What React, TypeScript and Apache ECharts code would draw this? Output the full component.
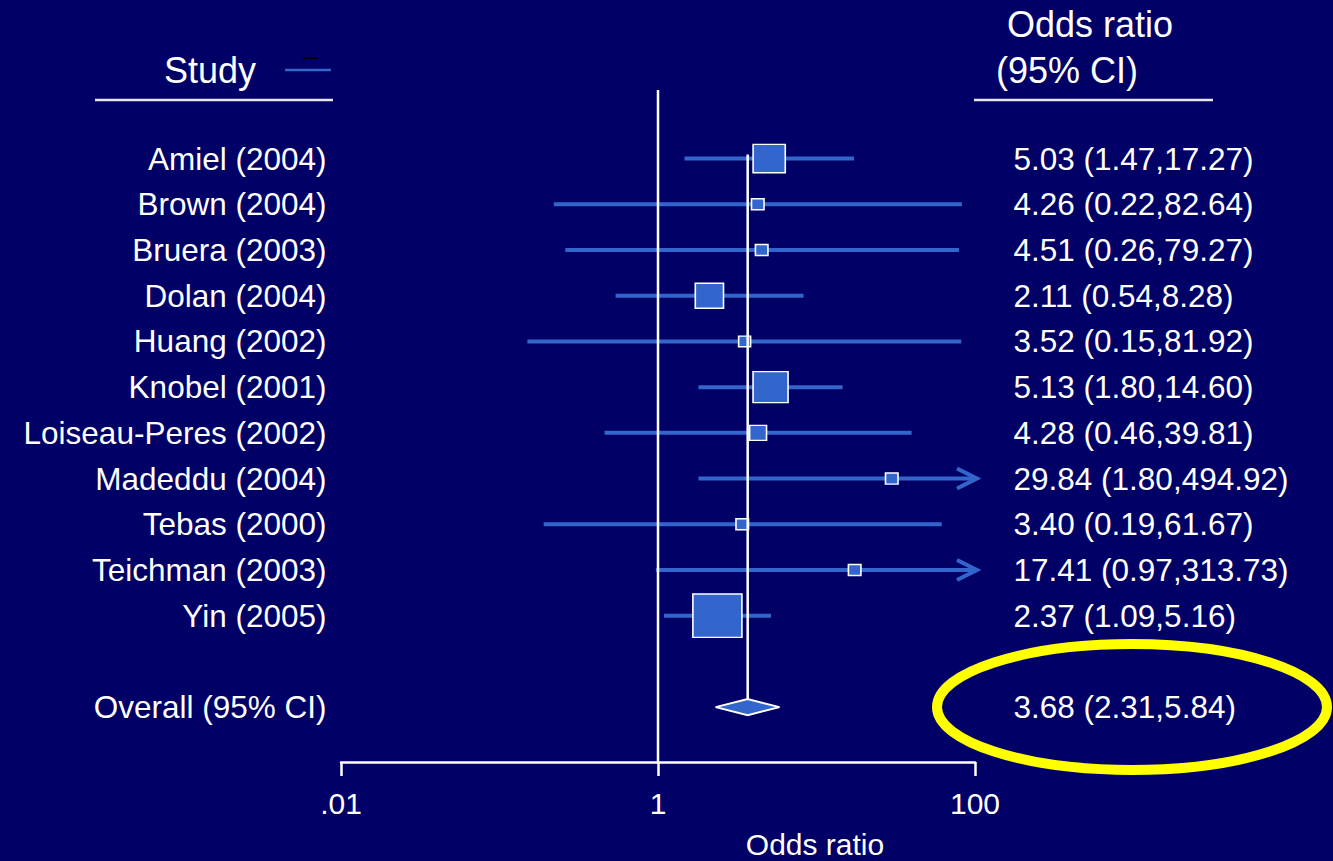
import React, { useEffect, useRef } from "react";
import * as echarts from "echarts";

// ---- data ----
const studies = [
  "Amiel (2004)",
  "Brown (2004)",
  "Bruera (2003)",
  "Dolan (2004)",
  "Huang (2002)",
  "Knobel (2001)",
  "Loiseau-Peres (2002)",
  "Madeddu (2004)",
  "Tebas (2000)",
  "Teichman (2003)",
  "Yin (2005)",
];
const oddsRatio = [5.03, 4.26, 4.51, 2.11, 3.52, 5.13, 4.28, 29.84, 3.4, 17.41, 2.37];
const ciLow = [1.47, 0.22, 0.26, 0.54, 0.15, 1.8, 0.46, 1.8, 0.19, 0.97, 1.09];
const ciHigh = [17.27, 82.64, 79.27, 8.28, 81.92, 14.6, 39.81, 494.92, 61.67, 313.73, 5.16];
// approximate study weights (%), read from square areas
const weights = [15.2, 2.3, 2.3, 11.7, 2.1, 18.0, 4.2, 2.3, 2.3, 2.3, 35.3];
const rows = [0, 1, 2, 3, 4, 5, 6, 7, 8, 9, 10];

const overallLabel = "Overall (95% CI)";
const overallOR = 3.68;
const overallLow = 2.31;
const overallHigh = 5.84;
const overallRow = 12;

const tickValues = [0.01, 1, 100];
const tickLabels = [".01", "1", "100"];

// ---- styles ----
const BG = "#000066";
const BLUE = "#3366CC";
const WHITE = "#FFFFFF";
const FONT = "'Liberation Sans', Arial, sans-serif";
const X_MIN = Math.log10(tickValues[0]);
const X_MAX = Math.log10(tickValues[tickValues.length - 1]);

const fmt = (v: number) => v.toFixed(2);

export default function App() {
  const ref = useRef<HTMLDivElement>(null);

  useEffect(() => {
    if (!ref.current) return;
    const chart = echarts.init(ref.current, null, { renderer: "svg" });

    const labelRows = [...rows, overallRow];
    const leftTexts = [...studies, overallLabel];
    const rightTexts = [
      ...studies.map((_, i) => `${fmt(oddsRatio[i])} (${fmt(ciLow[i])},${fmt(ciHigh[i])})`),
      `${fmt(overallOR)} (${fmt(overallLow)},${fmt(overallHigh)})`,
    ];
    const tickMap: Record<string, string> = {};
    tickValues.forEach((v, i) => (tickMap[String(Math.round(Math.log10(v)))] = tickLabels[i]));

    const option: any = {
      animation: false,
      backgroundColor: BG,
      grid: { left: 341, right: 358, top: 90, bottom: 99 },
      xAxis: {
        type: "value",
        position: "bottom",
        min: X_MIN,
        max: X_MAX,
        interval: 2,
        axisLine: { show: true, onZero: false, lineStyle: { color: WHITE, width: 2.5 } },
        axisTick: { show: true, inside: false, length: 14, lineStyle: { color: WHITE, width: 2.5 } },
        axisLabel: {
          color: WHITE,
          fontSize: 30,
          fontFamily: FONT,
          margin: 26,
          formatter: (v: number) => tickMap[String(Math.round(v))] ?? "",
        },
        splitLine: { show: false },
      },
      yAxis: {
        type: "value",
        inverse: true,
        min: -1.5,
        max: 13.2,
        show: false,
        splitLine: { show: false },
      },
      series: [
        // confidence interval lines
        {
          type: "custom",
          silent: true,
          clip: false,
          z: 2,
          data: rows.map((r, i) => [Math.log10(ciLow[i]), Math.log10(ciHigh[i]), r]),
          encode: { x: [0, 1], y: 2 },
          renderItem: (params: any, api: any) => {
            const l = api.value(0);
            const h = api.value(1);
            const y = api.value(2);
            const p1 = api.coord([Math.max(l, X_MIN), y]);
            const p2 = api.coord([Math.min(h, X_MAX), y]);
            const over = h > X_MAX;
            const children: any[] = [
              {
                type: "line",
                shape: { x1: p1[0], y1: p1[1], x2: p2[0] + (over ? 2 : 0), y2: p2[1] },
                style: { stroke: BLUE, lineWidth: 4 },
              },
            ];
            if (over) {
              children.push({
                type: "polyline",
                shape: {
                  points: [
                    [p2[0] - 18, p2[1] - 10],
                    [p2[0] + 2, p2[1]],
                    [p2[0] - 18, p2[1] + 10],
                  ],
                },
                style: { stroke: BLUE, lineWidth: 4, fill: "none" },
              });
            }
            return { type: "group", children };
          },
        },
        // reference line at OR = 1
        {
          type: "custom",
          silent: true,
          clip: false,
          z: 3,
          data: [[0]],
          renderItem: (params: any, api: any) => {
            const a = api.coord([0, -1.5]);
            const b = api.coord([0, 13.2]);
            return {
              type: "line",
              shape: { x1: a[0], y1: a[1], x2: b[0], y2: b[1] },
              style: { stroke: WHITE, lineWidth: 2.5 },
            };
          },
        },
        // study squares
        {
          type: "scatter",
          silent: true,
          z: 4,
          symbol: "rect",
          data: rows.map((r, i) => [Math.log10(oddsRatio[i]), r, weights[i]]),
          symbolSize: (val: number[]) => {
            const h = 7.3 * Math.sqrt(val[2]);
            return [h * 1.13, h];
          },
          itemStyle: { color: BLUE, borderColor: WHITE, borderWidth: 1.5, opacity: 1 },
        },
        // overall line + diamond
        {
          type: "custom",
          silent: true,
          clip: false,
          z: 5,
          data: [[Math.log10(overallLow), Math.log10(overallOR), Math.log10(overallHigh), overallRow]],
          encode: { x: [0, 1, 2], y: 3 },
          renderItem: (params: any, api: any) => {
            const lo = api.value(0);
            const mid = api.value(1);
            const hi = api.value(2);
            const y = api.value(3);
            const pl = api.coord([lo, y]);
            const pm = api.coord([mid, y]);
            const ph = api.coord([hi, y]);
            const top = api.coord([mid, rows[0]]);
            const dh = 8;
            return {
              type: "group",
              children: [
                {
                  type: "line",
                  shape: { x1: pm[0], y1: top[1] - 4, x2: pm[0], y2: pm[1] - dh },
                  style: { stroke: WHITE, lineWidth: 2.5 },
                },
                {
                  type: "polygon",
                  shape: {
                    points: [
                      [pl[0], pl[1]],
                      [pm[0], pm[1] - dh],
                      [ph[0], ph[1]],
                      [pm[0], pm[1] + dh],
                    ],
                  },
                  style: { fill: BLUE, stroke: WHITE, lineWidth: 2 },
                },
              ],
            };
          },
        },
        // left labels
        {
          type: "scatter",
          silent: true,
          z: 6,
          symbolSize: 1,
          itemStyle: { color: "transparent", opacity: 1 },
          data: labelRows.map((r) => [X_MIN, r]),
          label: {
            show: true,
            position: "left",
            distance: 14,
            color: WHITE,
            opacity: 1,
            fontSize: 31.5,
            fontFamily: FONT,
            formatter: (p: any) => leftTexts[p.dataIndex],
          },
        },
        // right labels
        {
          type: "scatter",
          silent: true,
          z: 6,
          symbolSize: 1,
          itemStyle: { color: "transparent", opacity: 1 },
          data: labelRows.map((r) => [X_MAX, r]),
          label: {
            show: true,
            position: "right",
            distance: 38,
            color: WHITE,
            opacity: 1,
            fontSize: 31.5,
            fontFamily: FONT,
            formatter: (p: any) => rightTexts[p.dataIndex],
          },
        },
      ],
      graphic: [
        {
          type: "text",
          x: 210,
          y: 70,
          style: { text: "Study", fill: WHITE, font: `36px ${FONT}`, align: "center", verticalAlign: "middle" },
        },
        {
          type: "line",
          shape: { x1: 285, y1: 70, x2: 331, y2: 70 },
          style: { stroke: BLUE, lineWidth: 2.5 },
        },
        {
          type: "line",
          shape: { x1: 303, y1: 58, x2: 318, y2: 58 },
          style: { stroke: "#000000", lineWidth: 2 },
        },
        {
          type: "line",
          shape: { x1: 95, y1: 100, x2: 333, y2: 100 },
          style: { stroke: "#E6E6F0", lineWidth: 2.5 },
        },
        {
          type: "text",
          x: 1007,
          y: 24,
          style: { text: "Odds ratio", fill: WHITE, font: `36px ${FONT}`, align: "left", verticalAlign: "middle" },
        },
        {
          type: "text",
          x: 996,
          y: 70,
          style: { text: "(95% CI)", fill: WHITE, font: `36px ${FONT}`, align: "left", verticalAlign: "middle" },
        },
        {
          type: "line",
          shape: { x1: 974, y1: 100, x2: 1213, y2: 100 },
          style: { stroke: "#E6E6F0", lineWidth: 2.5 },
        },
        {
          type: "text",
          x: 815,
          y: 844,
          style: { text: "Odds ratio", fill: WHITE, font: `30px ${FONT}`, align: "center", verticalAlign: "middle" },
        },
        {
          type: "ellipse",
          shape: { cx: 1132, cy: 707, rx: 195, ry: 63 },
          style: { stroke: "#FFFF00", lineWidth: 10, fill: "none" },
          z: 10,
        },
      ],
    };

    chart.setOption(option);
    return () => chart.dispose();
  }, []);

  return (
    <div
      ref={ref}
      style={{ position: "fixed", left: 0, top: 0, width: 1333, height: 861, background: BG }}
    />
  );
}
